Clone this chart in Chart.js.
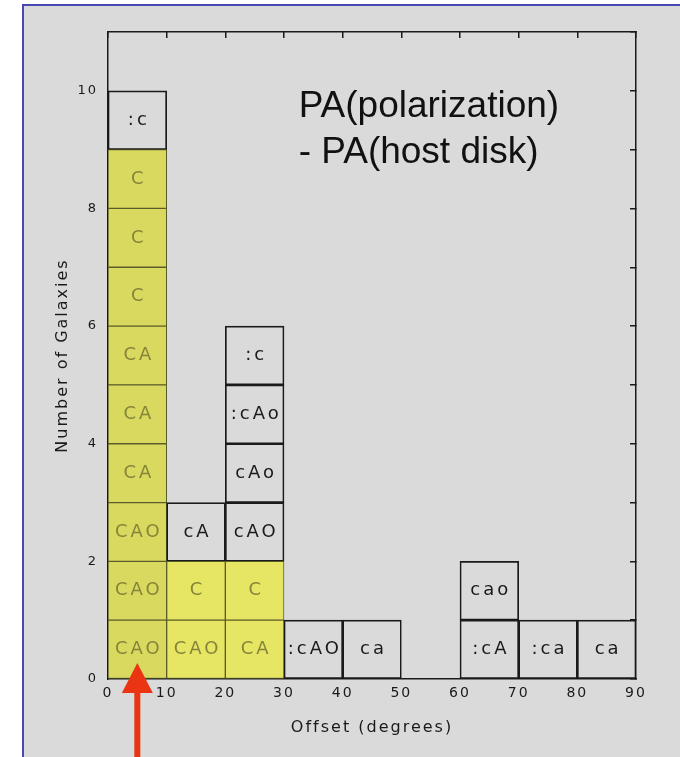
<!DOCTYPE html>
<html>
<head>
<meta charset="utf-8">
<script src="https://cdn.jsdelivr.net/npm/chart.js@4.4.1/dist/chart.umd.min.js"></script>
<style>
  html, body { margin: 0; padding: 0; background: #fff; overflow: hidden; }
  #frame {
    position: absolute; left: 22px; top: 4px; width: 700px; height: 800px;
    background: #dadada;
    border-left: 2px solid #4848b0; border-top: 2px solid #4848b0;
  }
  #histChart { position: absolute; left: 0; top: 0; }
</style>
</head>
<body>
<div id="frame"></div>
<canvas id="histChart" width="680" height="757"></canvas>
<script>
// bins of 10 degrees, each galaxy is one stacked box with its code
const binStarts = [0, 10, 20, 30, 40, 50, 60, 70, 80];
const binWidth = 10;
const boxLabels = [
    ['CAO', 'CAO', 'CAO', 'CA', 'CA', 'CA', 'C', 'C', 'C', ':c'],
    ['CAO', 'C', 'cA'],
    ['CA', 'C', 'cAO', 'cAo', ':cAo', ':c'],
    [':cAO'],
    ['ca'],
    [],
    [':cA', 'cao'],
    [':ca'],
    ['ca']
];
// how many boxes from the bottom are marked yellow in each bin
const highlighted = [9, 2, 2, 0, 0, 0, 0, 0, 0];
const xTickValues = [0, 10, 20, 30, 40, 50, 60, 70, 80, 90];
const yTickValues = [0, 2, 4, 6, 8, 10];
const noteLines = ['PA(polarization)', '- PA(host disk)'];

const counts = boxLabels.map(l => l.length);
const binCenters = binStarts.map(s => s + binWidth / 2);
const maxRows = Math.max(...counts);

const INK = '#1a1a1a';

const datasets = [];
for (let r = 0; r < maxRows; r++) {
    datasets.push({
        label: 'row ' + (r + 1),
        data: binCenters.map((c, i) => ({ x: c, y: counts[i] > r ? 1 : null })),
        backgroundColor: ctx => {
            if (ctx.datasetIndex < highlighted[ctx.dataIndex]) {
                return ctx.dataIndex === 0 ? '#d9d95f' : '#e6e664';
            }
            return 'rgba(0,0,0,0)';
        },
        borderColor: ctx => ctx.datasetIndex < highlighted[ctx.dataIndex] ? '#5c5c28' : INK,
        borderWidth: 1,
        borderSkipped: false,
        barPercentage: 1,
        categoryPercentage: 1
    });
}

const setTicks = values => scale => { scale.ticks = values.map(v => ({ value: v })); };

const spacingPlugin = {
    id: 'spacing',
    beforeDraw(chart) {
        chart.ctx.letterSpacing = '2px';
    }
};

const boxTextPlugin = {
    id: 'boxText',
    afterDatasetsDraw(chart) {
        const ctx = chart.ctx;
        ctx.save();
        ctx.font = '18px "DejaVu Sans"';
        ctx.letterSpacing = '3px';
        ctx.textAlign = 'center';
        ctx.textBaseline = 'middle';
        for (let r = 0; r < maxRows; r++) {
            const meta = chart.getDatasetMeta(r);
            meta.data.forEach((bar, i) => {
                if (r >= counts[i]) return;
                ctx.fillStyle = r < highlighted[i] ? '#85853a' : INK;
                ctx.fillText(boxLabels[i][r], bar.x + 1.5, (bar.y + bar.base) / 2);
            });
        }
        ctx.restore();
    }
};

const notePlugin = {
    id: 'note',
    afterDraw(chart) {
        const ctx = chart.ctx;
        const xs = chart.scales.x, ys = chart.scales.y;
        ctx.save();
        ctx.letterSpacing = '0px';
        ctx.font = '37px "Liberation Sans", Arial, sans-serif';
        ctx.fillStyle = '#111';
        ctx.textAlign = 'left';
        ctx.textBaseline = 'alphabetic';
        const nx = xs.getPixelForValue(32.5);
        const ny = ys.getPixelForValue(9.55);
        noteLines.forEach((t, k) => ctx.fillText(t, nx, ny + k * 46));

        // red arrow pointing at the first bin
        const ax = xs.getPixelForValue(binCenters[0]);
        const tip = ys.getPixelForValue(0) - 16;
        ctx.fillStyle = '#ea3412';
        ctx.beginPath();
        ctx.moveTo(ax, tip);
        ctx.lineTo(ax + 15.5, tip + 30);
        ctx.lineTo(ax + 3, tip + 30);
        ctx.lineTo(ax + 3, chart.height);
        ctx.lineTo(ax - 3, chart.height);
        ctx.lineTo(ax - 3, tip + 30);
        ctx.lineTo(ax - 15.5, tip + 30);
        ctx.closePath();
        ctx.fill();
        ctx.restore();
    }
};

const tickFont = { family: 'DejaVu Sans', size: 14 };
const border = { display: true, color: INK, width: 1.5 };

new Chart(document.getElementById('histChart'), {
    type: 'bar',
    data: { datasets: datasets },
    options: {
        responsive: false,
        animation: false,
        layout: { padding: { left: 53, top: 32, right: 44, bottom: 20 } },
        plugins: {
            legend: { display: false },
            tooltip: { enabled: false }
        },
        scales: {
            x: {
                type: 'linear',
                stacked: true,
                offset: false,
                min: 0,
                max: 90,
                afterBuildTicks: setTicks(xTickValues),
                afterFit: s => { s.height = 58; },
                border: border,
                grid: { offset: false, drawOnChartArea: false, drawTicks: false },
                ticks: { color: INK, font: tickFont, padding: 6, maxRotation: 0 },
                title: {
                    display: true,
                    text: 'Offset (degrees)',
                    color: INK,
                    font: { family: 'DejaVu Sans', size: 16 },
                    padding: 0
                }
            },
            y: {
                stacked: true,
                min: 0,
                max: 11,
                afterBuildTicks: setTicks(yTickValues),
                afterFit: s => { s.width = 55; },
                border: border,
                grid: { drawOnChartArea: false, drawTicks: false },
                ticks: { color: INK, font: { family: 'DejaVu Sans', size: 13 }, padding: 10 },
                title: {
                    display: true,
                    text: 'Number of Galaxies',
                    color: INK,
                    font: { family: 'DejaVu Sans', size: 16 },
                    padding: 0
                }
            },
            x2: {
                type: 'linear',
                position: 'top',
                offset: false,
                min: 0,
                max: 90,
                afterBuildTicks: setTicks(xTickValues),
                afterFit: s => { s.height = 0; },
                border: border,
                grid: { offset: false, drawOnChartArea: false, drawTicks: true, tickLength: -6, color: INK, lineWidth: 1.5 },
                ticks: { display: false }
            },
            y2: {
                type: 'linear',
                position: 'right',
                min: 0,
                max: 11,
                afterFit: s => { s.width = 0; },
                border: border,
                grid: { drawOnChartArea: false, drawTicks: true, tickLength: -6, color: INK, lineWidth: 1.5 },
                ticks: { display: false, stepSize: 1 }
            }
        }
    },
    plugins: [spacingPlugin, boxTextPlugin, notePlugin]
});
</script>
</body>
</html>
